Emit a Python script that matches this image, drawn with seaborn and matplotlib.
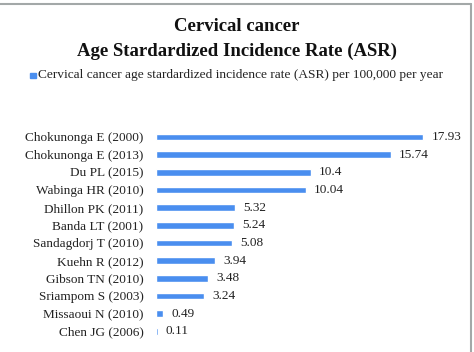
import pandas as pd
import matplotlib.pyplot as plt
import seaborn as sns
from matplotlib.lines import Line2D
from matplotlib.patches import Rectangle

studies = ['Chokunonga E (2000)', 'Chokunonga E (2013)', 'Du PL (2015)', 'Wabinga HR (2010)',
           'Dhillon PK (2011)', 'Banda LT (2001)', 'Sandagdorj T (2010)', 'Kuehn R (2012)',
           'Gibson TN (2010)', 'Sriampom S (2003)', 'Missaoui N (2010)', 'Chen JG (2006)']
asr = [17.93, 15.74, 10.4, 10.04, 5.32, 5.24, 5.08, 3.94, 3.48, 3.24, 0.49, 0.11]
asr_labels = ['17.93', '15.74', '10.4', '10.04', '5.32', '5.24', '5.08', '3.94', '3.48', '3.24', '0.49', '0.11']

df = pd.DataFrame({'study': studies, 'asr': asr})

sns.set_style('white')
plt.rcParams['font.family'] = ['Liberation Serif', 'DejaVu Serif']

bar_color = '#4a8eef'

fig = plt.figure(figsize=(4.74, 3.52), dpi=100)
ax = fig.add_axes([0.329, 0.034, 0.629, 0.602])

sns.barplot(data=df, y='study', x='asr', orient='h', color=bar_color, width=0.38,
            saturation=1, ax=ax)

for i, (v, lab) in enumerate(zip(asr, asr_labels)):
    ax.text(v + 0.55, i, lab, va='center', ha='left', fontsize=9.5, color='#222222')

ax.set_xlim(0, 20)
ax.set_ylim(11.5, -0.5)
ax.set_xlabel('')
ax.set_ylabel('')
ax.set_xticks([])
ax.tick_params(axis='y', length=0, pad=9, labelsize=9.5, labelcolor='#222222')
sns.despine(ax=ax, left=True, bottom=True)

# titles
fig.text(0.5, 0.925, 'Cervical cancer', ha='center', va='center', fontsize=13.5,
         fontweight='bold', color='#111111')
fig.text(0.5, 0.855, 'Age Stardardized Incidence Rate (ASR)', ha='center', va='center',
         fontsize=13.5, fontweight='bold', color='#111111')

# legend
fig.patches.append(Rectangle((0.064, 0.778), 0.011, 0.016, transform=fig.transFigure,
                             color=bar_color))
fig.text(0.08, 0.786, 'Cervical cancer age stardardized incidence rate (ASR) per 100,000 per year',
         ha='left', va='center', fontsize=9.6, color='#222222')

# chart frame (top and right edges visible)
fig.add_artist(Line2D([0, 0.994], [0.988, 0.988], transform=fig.transFigure,
                      color='#a3a8a8', lw=1.5))
fig.add_artist(Line2D([0.994, 0.994], [0, 0.988], transform=fig.transFigure,
                      color='#a3a8a8', lw=1.5))

plt.savefig('out.png', dpi=100)
